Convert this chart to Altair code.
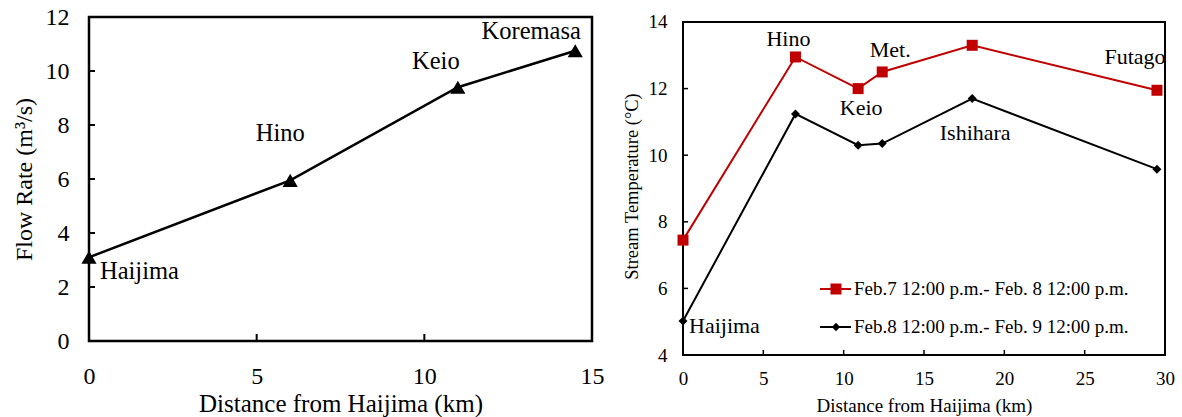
import altair as alt
import pandas as pd

SERIF = "Times New Roman, Liberation Serif, serif"
RED = "#C00000"

# Flow rate at the gauging stations
flow_sites = ["Haijima", "Hino", "Keio", "Koremasa"]
flow_km = [0, 6, 11, 14.5]
flow_rate = [3.1, 5.95, 9.4, 10.75]
flow_x_ticks = [0, 5, 10, 15]
flow_y_ticks = [0, 2, 4, 6, 8, 10, 12]

# Stream temperature averaged over two 24-hour windows
temp_sites = ["Haijima", "Hino", "Keio", "Met.", "Ishihara", "Futago"]
temp_km = [0, 7, 10.9, 12.4, 18, 29.5]
temp_feb7 = [7.45, 12.95, 12.0, 12.5, 13.3, 11.95]
temp_feb8 = [5.02, 11.24, 10.3, 10.35, 11.7, 9.58]
series_names = ["Feb.7 12:00 p.m.- Feb. 8 12:00 p.m.",
                "Feb.8 12:00 p.m.- Feb. 9 12:00 p.m."]
temp_x_ticks = [0, 5, 10, 15, 20, 25, 30]
temp_y_ticks = [4, 6, 8, 10, 12, 14]


def axis_style(size, title_size, label_pad, title_pad):
    return dict(labelFont=SERIF, titleFont=SERIF, labelFontSize=size,
                titleFontSize=title_size, titleFontWeight="normal",
                labelColor="black", titleColor="black", domain=False,
                ticks=False, tickSize=0, grid=False, labelFlush=False,
                labelOverlap=False, labelPadding=label_pad, titlePadding=title_pad)


def site_label(base, x, y, name, dx, dy, size, align="center"):
    return base.transform_filter(alt.datum.site == name).mark_text(
        font=SERIF, fontSize=size, color="black", align=align,
        baseline="middle", dx=dx, dy=dy).encode(x=x, y=y, text="site:N")


# ---------------- left panel: flow rate ----------------
W1, H1 = 503, 324
flow = pd.DataFrame({"site": flow_sites, "km": flow_km, "rate": flow_rate})

fx = alt.X("km:Q", scale=alt.Scale(domain=[0, 15], nice=False),
           axis=alt.Axis(values=flow_x_ticks, title="Distance from Haijima (km)",
                         **axis_style(24, 25, 23, 3)))
fy = alt.Y("rate:Q", scale=alt.Scale(domain=[0, 12], nice=False),
           axis=alt.Axis(values=flow_y_ticks, title="Flow Rate (m³/s)",
                         **axis_style(24, 24, 20, 9)))

flow_base = alt.Chart(flow)
flow_line = flow_base.mark_line(color="black", strokeWidth=2.5).encode(x=fx, y=fy)
flow_pts = flow_base.mark_point(shape="triangle-up", filled=True, color="black",
                                size=230, opacity=1).encode(x=fx, y=fy)

# inward tick marks
fxt = alt.Chart(pd.DataFrame({"km": flow_x_ticks[1:-1]})).mark_rule(
    color="black", strokeWidth=2).encode(x=fx, y=alt.value(H1), y2=alt.value(H1 - 7))
fyt = alt.Chart(pd.DataFrame({"rate": flow_y_ticks[1:-1]})).mark_rule(
    color="black", strokeWidth=2).encode(y=fy, x=alt.value(0), x2=alt.value(6))

flow_labels = [
    site_label(flow_base, fx, fy, "Haijima", 11, 15, 24.5, "left"),
    site_label(flow_base, fx, fy, "Hino", -10, -46, 24.5),
    site_label(flow_base, fx, fy, "Keio", -22, -25, 24.5),
    site_label(flow_base, fx, fy, "Koremasa", -44, -19, 24.5),
]

left = alt.layer(fxt, fyt, flow_line, flow_pts, *flow_labels).properties(
    width=W1, height=H1, view=alt.ViewBackground(stroke="black", strokeWidth=2.5))

# ---------------- right panel: stream temperature ----------------
# the frame sits a little below the panel top, so the y scale runs slightly past 14
TOP_GAP = 0.15
W2, H2 = 482, 338
temp = pd.DataFrame({"site": temp_sites * 2, "km": temp_km * 2,
                     "temp": temp_feb7 + temp_feb8,
                     "series": [series_names[0]] * 6 + [series_names[1]] * 6})

tx = alt.X("km:Q", scale=alt.Scale(domain=[temp_x_ticks[0], temp_x_ticks[-1]], nice=False),
           axis=alt.Axis(values=temp_x_ticks, title="Distance from Haijima (km)",
                         **axis_style(19, 19, 14, 8)))
ty = alt.Y("temp:Q",
           scale=alt.Scale(domain=[temp_y_ticks[0], temp_y_ticks[-1] + TOP_GAP], nice=False),
           axis=alt.Axis(values=temp_y_ticks, title="Stream Temperature (°C)",
                         **axis_style(19, 18.5, 16, 7)))

frame = alt.Chart(pd.DataFrame({
    "km": [temp_x_ticks[0]], "km_end": [temp_x_ticks[-1]],
    "temp": [temp_y_ticks[0]], "temp_end": [temp_y_ticks[-1]]})).mark_rect(
    fillOpacity=0, stroke="black", strokeWidth=2).encode(
    x=tx, x2="km_end:Q", y=ty, y2="temp_end:Q")

red_base = alt.Chart(temp).transform_filter(alt.datum.series == series_names[0])
blk_base = alt.Chart(temp).transform_filter(alt.datum.series == series_names[1])

red_line = red_base.mark_line(color=RED, strokeWidth=2).encode(x=tx, y=ty)
blk_line = blk_base.mark_line(color="black", strokeWidth=2).encode(x=tx, y=ty)
red_pts = red_base.mark_point(shape="square", filled=True, color=RED, size=121,
                              opacity=1).encode(x=tx, y=ty)
blk_pts = blk_base.mark_point(shape="diamond", filled=True, color="black", size=80,
                              opacity=1).encode(x=tx, y=ty)

txt = alt.Chart(pd.DataFrame({"km": temp_x_ticks[1:-1]})).mark_rule(
    color="black", strokeWidth=1.5).encode(x=tx, y=alt.value(H2), y2=alt.value(H2 - 5))
tyt = alt.Chart(pd.DataFrame({"temp": temp_y_ticks[1:-1]})).mark_rule(
    color="black", strokeWidth=1.5).encode(y=ty, x=alt.value(0), x2=alt.value(5))

temp_labels = [
    site_label(blk_base, tx, ty, "Haijima", 6, 5, 22, "left"),
    site_label(red_base, tx, ty, "Hino", -7, -18, 22),
    site_label(red_base, tx, ty, "Met.", 8, -22, 22),
    site_label(red_base, tx, ty, "Keio", 3, 19, 22),
    site_label(blk_base, tx, ty, "Ishihara", 3, 34, 22),
    site_label(red_base, tx, ty, "Futago", -22, -33, 22),
]

# legend drawn inside the plot area
legend_layers = []
for name, color, shape, size, ypix in [
        (series_names[0], RED, "square", 121, 272),
        (series_names[1], "black", "diamond", 70, 310)]:
    ldf = alt.Chart(pd.DataFrame({"series": [name]}))
    legend_layers += [
        ldf.mark_rule(color=color, strokeWidth=2).encode(
            x=alt.value(137), x2=alt.value(168), y=alt.value(ypix)),
        ldf.mark_point(shape=shape, filled=True, color=color, size=size, opacity=1).encode(
            x=alt.value(153), y=alt.value(ypix)),
        ldf.mark_text(font=SERIF, fontSize=19, align="left", baseline="middle",
                      color="black").encode(
            x=alt.value(171), y=alt.value(ypix), text="series:N"),
    ]

right = alt.layer(frame, txt, tyt, red_line, blk_line, red_pts, blk_pts,
                  *temp_labels, *legend_layers).properties(
    width=W2, height=H2, view=alt.ViewBackground(strokeWidth=0))

chart = alt.hconcat(left, right, spacing=16).properties(
    padding={"left": 10, "top": 3, "right": 5, "bottom": 0},
    background="white")

chart.save("out.html", embed_options={"renderer": "svg", "actions": False})
